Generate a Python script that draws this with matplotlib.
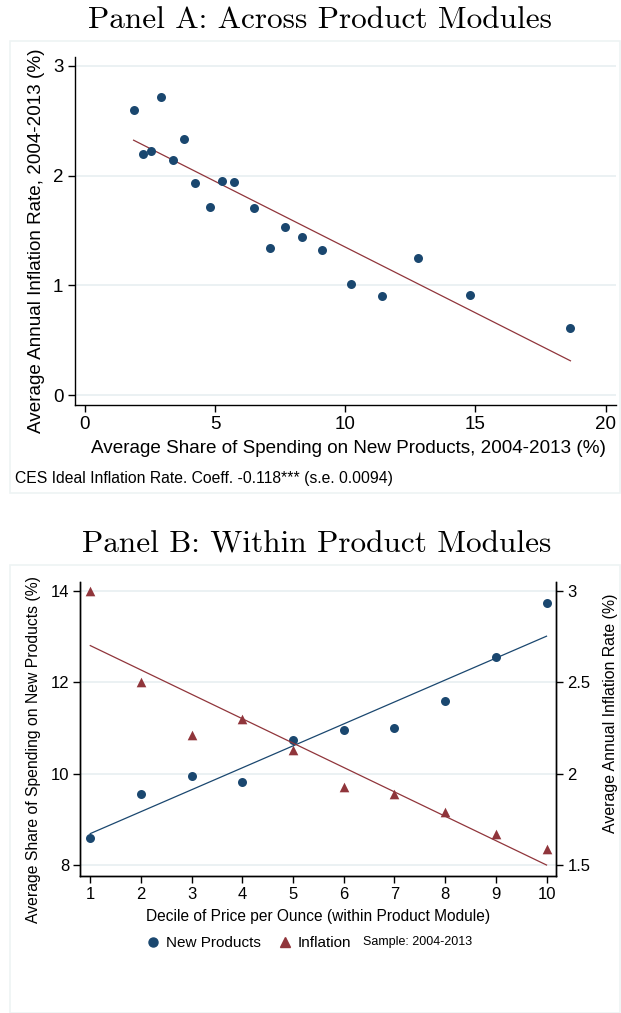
import numpy as np
import matplotlib
matplotlib.use('Agg')
import matplotlib.pyplot as plt
from matplotlib.patches import Rectangle
from matplotlib.lines import Line2D

# %% data ---------------------------------------------------------------------

# Panel A: share of spending on new products vs inflation, by product module
share_new = [1.87, 2.23, 2.55, 2.92, 3.40, 3.80, 4.24, 4.80, 5.27, 5.73,
             6.50, 7.12, 7.67, 8.32, 9.10, 10.22, 11.42, 12.80, 14.79, 18.65]
inflation_a = [2.60, 2.20, 2.22, 2.72, 2.14, 2.33, 1.93, 1.71, 1.95, 1.94,
               1.70, 1.34, 1.53, 1.44, 1.32, 1.01, 0.90, 1.25, 0.91, 0.61]

# Panel B: by price decile within module
deciles = [1, 2, 3, 4, 5, 6, 7, 8, 9, 10]
new_products = [8.60, 9.56, 9.96, 9.81, 10.73, 10.95, 11.00, 11.60, 12.55, 13.75]
inflation_b = [3.00, 2.50, 2.21, 2.30, 2.13, 1.93, 1.89, 1.79, 1.67, 1.59]

xticks_a = [0, 5, 10, 15, 20]
yticks_a = [0, 1, 2, 3]
yticks_b_left = [8, 10, 12, 14]
yticks_b_right = [1.5, 2, 2.5, 3]
right_labels = ['1.5', '2', '2.5', '3']

navy = '#1a476f'
maroon = '#90353b'
grid_col = '#e8eff1'
frame_col = '#eef3f4'
sans = 'Liberation Sans'

# %% figure -------------------------------------------------------------------

W, H = 621, 1013
fig = plt.figure(figsize=(W / 100, H / 100), dpi=100)

def fx(px):
    return px / W

def fy(py):
    return 1 - py / H

# light outer frames round each panel
fig.patches.append(Rectangle((fx(10), fy(493)), fx(610), fy(41) - fy(493),
                             transform=fig.transFigure, fill=False,
                             edgecolor=frame_col, lw=1.2))
fig.patches.append(Rectangle((fx(10), fy(1013)), fx(610), fy(565) - fy(1013),
                             transform=fig.transFigure, fill=False,
                             edgecolor=frame_col, lw=1.2))

# %% panel A ------------------------------------------------------------------

ax = fig.add_axes([fx(74.5), fy(405), fx(616 - 74.5), (405 - 57) / H])
ax.scatter(share_new, inflation_a, s=42, color=navy, zorder=3, linewidths=0)
b, a = np.polyfit(share_new, inflation_a, 1)
xs = np.array([min(share_new), max(share_new)])
ax.plot(xs, a + b * xs, color=maroon, lw=0.9, zorder=2)

ax.set_xlim(-0.4, 20.4)
ax.set_ylim(-0.09, 3.08)
ax.set_xticks(xticks_a)
ax.set_yticks(yticks_a)
ax.grid(axis='y', color=grid_col, lw=1.2)
ax.set_axisbelow(True)
for s in ['top', 'right']:
    ax.spines[s].set_visible(False)
for s in ['left', 'bottom']:
    ax.spines[s].set_linewidth(1.0)
ax.tick_params(labelsize=13.5, length=5, width=1, pad=3)
for lab in ax.get_xticklabels() + ax.get_yticklabels():
    lab.set_family(sans)
ax.set_ylabel('Average Annual Inflation Rate, 2004-2013 (%)', fontsize=13.6,
              family=sans, labelpad=6)
ax.yaxis.label.set_y(0.471)
ax.set_xlabel('Average Share of Spending on New Products, 2004-2013 (%)',
              fontsize=13.6, family=sans)
ax.xaxis.set_label_coords((348.5 - 74.5) / (616 - 74.5), -0.10)

fig.text(fx(320), fy(20), 'Panel A: Across Product Modules', family='cmr10',
         fontsize=22.5, ha='center', va='center')
fig.text(fx(15), fy(478), 'CES Ideal Inflation Rate. Coeff. -0.118*** (s.e. 0.0094)',
         family=sans, fontsize=11.3, ha='left', va='center')

# %% panel B ------------------------------------------------------------------

axb = fig.add_axes([fx(80.4), fy(876), fx(556.4 - 80.4), (876 - 582) / H])
axr = axb.twinx()

axb.scatter(deciles, new_products, s=42, color=navy, zorder=3, linewidths=0)
b1, a1 = np.polyfit(deciles, new_products, 1)
xd = np.array([min(deciles), max(deciles)])
axb.plot(xd, a1 + b1 * xd, color=navy, lw=0.9, zorder=2)

axr.scatter(deciles, inflation_b, s=48, marker='^', color=maroon, zorder=3,
            linewidths=0)
b2, a2 = np.polyfit(deciles, inflation_b, 1)
axr.plot(xd, a2 + b2 * xd, color=maroon, lw=0.9, zorder=2)

axb.set_xlim(0.805, 10.195)
axb.set_ylim(7.76, 14.2)
axr.set_ylim(1.44, 3.05)
axb.set_xticks(deciles)
axb.set_yticks(yticks_b_left)
axr.set_yticks(yticks_b_right)
axr.set_yticklabels(right_labels)
axb.grid(axis='y', color=grid_col, lw=1.2)
axb.set_axisbelow(True)
for a_ in [axb, axr]:
    a_.spines['top'].set_visible(False)
    for s in ['left', 'bottom', 'right']:
        a_.spines[s].set_linewidth(1.0)
    a_.tick_params(labelsize=12, length=5, width=1, pad=3)
for lab in axb.get_xticklabels() + axb.get_yticklabels() + axr.get_yticklabels():
    lab.set_family(sans)

axb.set_ylabel('Average Share of Spending on New Products (%)', fontsize=11.3,
               family=sans, labelpad=7)
axb.yaxis.label.set_y(0.43)
axr.set_ylabel('Average Annual Inflation Rate (%)', fontsize=11.4, family=sans,
               labelpad=9)
axr.yaxis.label.set_y(0.554)
axb.set_xlabel('Decile of Price per Ounce (within Product Module)', fontsize=11.2,
               family=sans, labelpad=5)

fig.text(fx(317), fy(545), 'Panel B: Within Product Modules', family='cmr10',
         fontsize=22.5, ha='center', va='center')

handles = [Line2D([], [], ls='none', marker='o', color=navy, markersize=6.5),
           Line2D([], [], ls='none', marker='^', color=maroon, markersize=7)]
fig.legend(handles, ['New Products', 'Inflation'], ncol=2, frameon=False,
           loc='center left', bbox_to_anchor=(fx(132), fy(943)),
           prop={'family': sans, 'size': 11}, handlelength=1,
           handletextpad=0.3, columnspacing=1.1)
fig.text(fx(363), fy(942), 'Sample: 2004-2013', family=sans, fontsize=9,
         ha='left', va='center')

fig.savefig('out.png', dpi=100)
